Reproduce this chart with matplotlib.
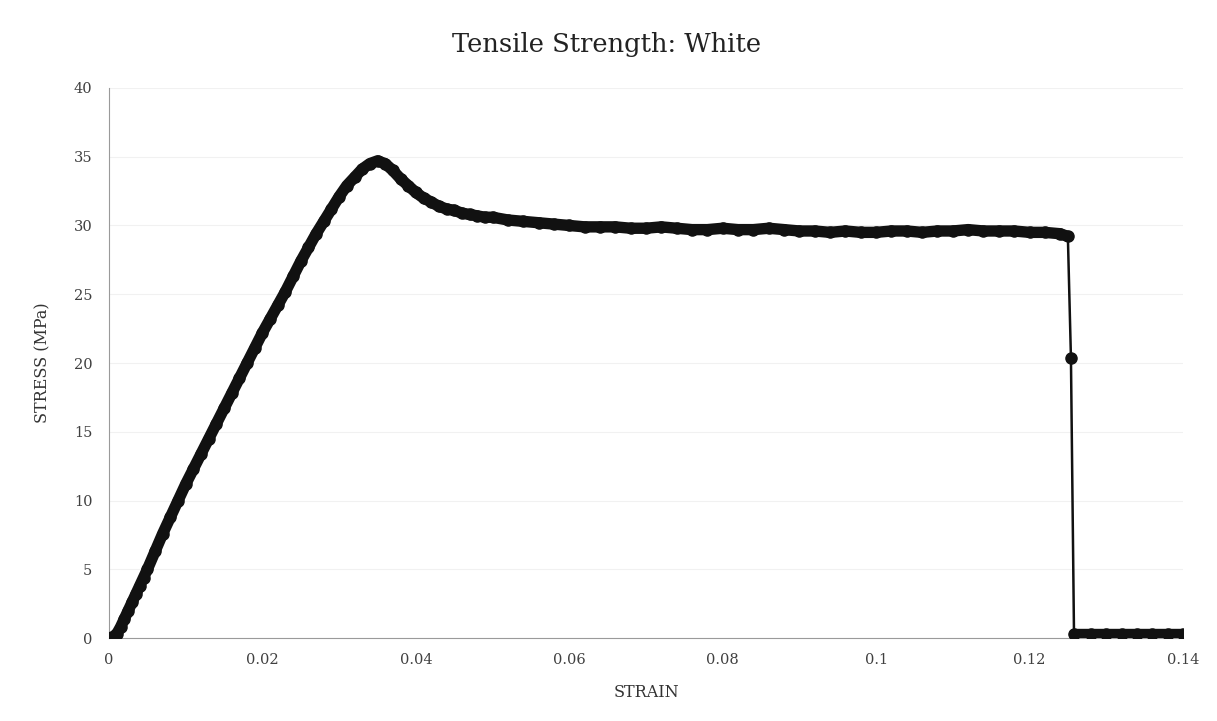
import numpy as np
import matplotlib
matplotlib.use("Agg")
import matplotlib.pyplot as plt

# Stress-strain record of the white specimen (strain, stress in MPa)
strain = [
    0.000, 0.0005, 0.001, 0.0015, 0.002, 0.0025, 0.003, 0.0035, 0.004, 0.0045,
    0.005, 0.006, 0.007, 0.008, 0.009, 0.010, 0.011, 0.012, 0.013, 0.014,
    0.015, 0.016, 0.017, 0.018, 0.019, 0.020, 0.021, 0.022, 0.023, 0.024,
    0.025, 0.026, 0.027, 0.028, 0.029, 0.030, 0.031, 0.032, 0.033, 0.034,
    0.035, 0.036, 0.037, 0.038, 0.039, 0.040, 0.041, 0.042, 0.043, 0.044,
    0.045, 0.046, 0.047, 0.048, 0.049, 0.050, 0.052, 0.054, 0.056, 0.058,
    0.060, 0.062, 0.064, 0.066, 0.068, 0.070, 0.072, 0.074, 0.076, 0.078,
    0.080, 0.082, 0.084, 0.086, 0.088, 0.090, 0.092, 0.094, 0.096, 0.098,
    0.100, 0.102, 0.104, 0.106, 0.108, 0.110, 0.112, 0.114, 0.116, 0.118,
    0.120, 0.122, 0.124, 0.1250,
    0.1254,
    0.1258, 0.128, 0.130, 0.132, 0.134, 0.136, 0.138, 0.140,
]
stress = [
    0.0, 0.1, 0.3, 0.8, 1.4, 2.0, 2.6, 3.2, 3.8, 4.4,
    5.0, 6.3, 7.6, 8.8, 10.0, 11.2, 12.3, 13.4, 14.5, 15.6,
    16.7, 17.8, 18.9, 20.0, 21.1, 22.2, 23.2, 24.2, 25.2, 26.3,
    27.4, 28.4, 29.4, 30.3, 31.2, 32.1, 32.9, 33.5, 34.1, 34.5,
    34.7, 34.5, 34.0, 33.4, 32.9, 32.4, 32.0, 31.7, 31.4, 31.2,
    31.1, 30.9, 30.8, 30.7, 30.6, 30.6, 30.4, 30.3, 30.2, 30.1,
    30.0, 29.9, 29.9, 29.9, 29.8, 29.8, 29.9, 29.8, 29.7, 29.7,
    29.8, 29.7, 29.7, 29.8, 29.7, 29.6, 29.6, 29.5, 29.6, 29.5,
    29.5, 29.6, 29.6, 29.5, 29.6, 29.6, 29.7, 29.6, 29.6, 29.6,
    29.5, 29.5, 29.4, 29.2,
    20.4,
    0.3, 0.3, 0.3, 0.3, 0.3, 0.3, 0.3, 0.3,
]
fracture_strain = 0.1254

x_ticks = [0, 0.02, 0.04, 0.06, 0.08, 0.10, 0.12, 0.14]
x_tick_labels = ["0", "0.02", "0.04", "0.06", "0.08", "0.1", "0.12", "0.14"]
y_ticks = [0, 5, 10, 15, 20, 25, 30, 35, 40]

title = "Tensile Strength: White"
x_label = "STRAIN"
y_label = "STRESS (MPa)"

serif = ["DejaVu Serif"]
ink = "#111111"
label_color = "#404040"

fig = plt.figure(figsize=(12.17, 7.21), dpi=100)
ax = fig.add_axes([0.0896, 0.115, 0.8824, 0.763])

s = np.asarray(strain)
t = np.asarray(stress)
before = s < fracture_strain
after = s > fracture_strain

# dense sample trace: thick band through the recorded points
ax.plot(s[before], t[before], color=ink, lw=8.2, solid_capstyle="round",
        solid_joinstyle="round", zorder=3)
ax.plot(s[after], t[after], color=ink, lw=8.2, solid_capstyle="round",
        zorder=3)
ax.plot(s, t, color=ink, lw=1.8, marker="o", ms=8.0, mec=ink, mfc=ink,
        zorder=4)

ax.set_xlim(0, 0.14)
ax.set_ylim(0, 40)
ax.set_xticks(x_ticks)
ax.set_xticklabels(x_tick_labels)
ax.set_yticks(y_ticks)

ax.grid(axis="y", color="#f1f1f1", lw=0.8, zorder=0)
ax.set_axisbelow(True)

for side in ("top", "right"):
    ax.spines[side].set_visible(False)
for side in ("left", "bottom"):
    ax.spines[side].set_color("#9a9a9a")
    ax.spines[side].set_linewidth(0.8)

ax.tick_params(axis="both", length=0, labelsize=10.5, labelcolor=label_color)
ax.tick_params(axis="x", pad=11)
ax.tick_params(axis="y", pad=12)
for lbl in ax.get_xticklabels() + ax.get_yticklabels():
    lbl.set_family(serif)

ax.set_xlabel(x_label, family=serif, fontsize=11.5, color="#333333",
              labelpad=12)
ax.set_ylabel(y_label, family=serif, fontsize=11.5, color="#333333",
              labelpad=16)
fig.suptitle(title, family=serif, fontsize=18.5, color="#222222",
             weight="medium", x=0.498, y=0.955)

fig.savefig("out.png", dpi=100, facecolor="white")
